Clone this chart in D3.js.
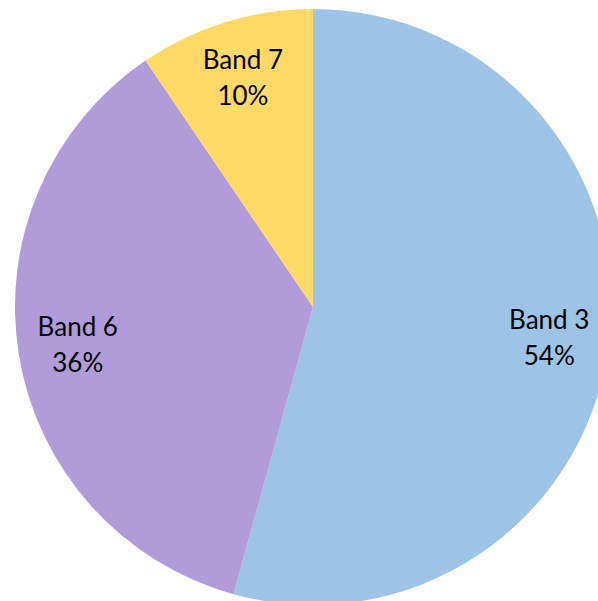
<!DOCTYPE html>
<html>
<head>
<meta charset="utf-8">
<script src="https://cdn.jsdelivr.net/npm/d3@7"></script>
<style>
    html, body { margin: 0; padding: 0; background: #fff; overflow: hidden; }
</style>
</head>
<body>
<div id="chart"></div>
<script>
const bands = ["Band 3", "Band 6", "Band 7"];
const shares = [54.3, 36.2, 9.5];
const colors = ["#9DC3E6", "#B19CD9", "#FFD966"];

function drawPie() {
    const width = 598,
          height = 601;
    const cx = 313, cy = 307, radius = 298;

    const svg = d3.select("#chart")
      .append("svg")
        .attr("width", width)
        .attr("height", height)
      .append("g")
        .attr("transform", `translate(${cx},${cy})`);

    const data = bands.map((b, i) => ({ name: b, value: shares[i], color: colors[i] }));
    const total = d3.sum(shares);

    const pie = d3.pie()
      .sort(null)
      .value(d => d.value);
    const slices = pie(data);

    const arc = d3.arc()
      .innerRadius(0)
      .outerRadius(radius);

    // labels sit at about 80% of the radius
    const labelArc = d3.arc()
      .innerRadius(radius * 0.8)
      .outerRadius(radius * 0.8);

    svg.selectAll("path")
      .data(slices)
      .join("path")
        .attr("d", arc)
        .attr("fill", d => d.data.color);

    const labels = svg.selectAll("text")
      .data(slices)
      .join("text")
        .attr("transform", d => `translate(${labelArc.centroid(d)})`)
        .attr("text-anchor", "middle")
        .style("font-family", "Lato, 'Open Sans', sans-serif")
        .style("font-size", "26px")
        .attr("fill", "#000");

    labels.append("tspan")
        .attr("x", 0)
        .attr("y", -10)
        .text(d => d.data.name);

    labels.append("tspan")
        .attr("x", 0)
        .attr("y", 26)
        .text(d => Math.round(d.data.value / total * 100) + "%");
}

drawPie();
</script>
</body>
</html>
